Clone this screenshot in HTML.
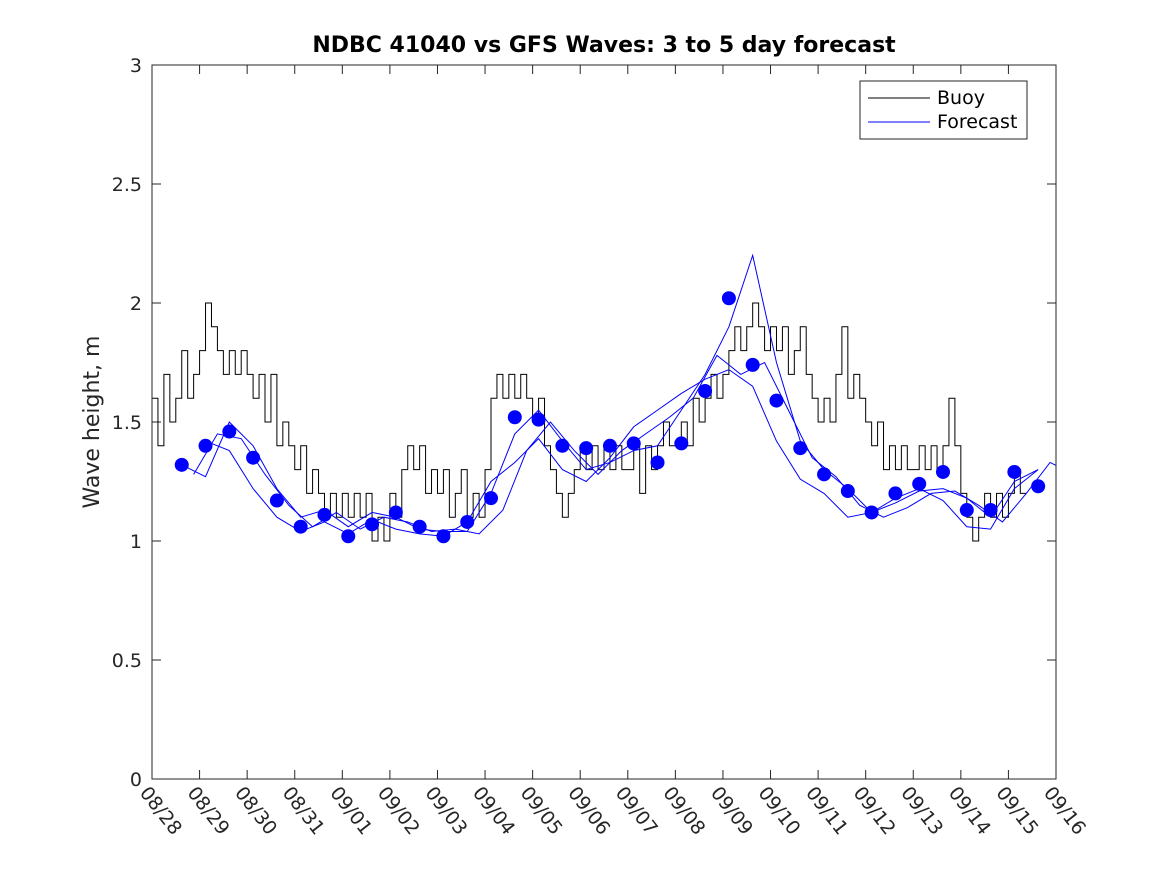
<!DOCTYPE html>
<html><head><meta charset="utf-8"><style>body{margin:0;background:#fff}svg{display:block;font-family:"DejaVu Sans","Liberation Sans",sans-serif}</style></head>
<body>
<svg id="chart" width="1167" height="875" viewBox="0 0 1167 875">
<rect width="1167" height="875" fill="#fff"/>
<text x="604" y="52" text-anchor="middle" font-size="22" font-weight="bold" fill="#000">NDBC 41040 vs GFS Waves: 3 to 5 day forecast</text>
<text transform="translate(99,422) rotate(-90)" text-anchor="middle" font-size="22" fill="#262626">Wave height, m</text>
<g id="plot"></g>
<rect x="152" y="65" width="904" height="714" fill="none" stroke="#262626" stroke-width="1"/>
<g>
<rect x="860" y="81" width="167" height="58" fill="#fff" stroke="#262626"/>
<line x1="868" y1="98" x2="930" y2="98" stroke="#000"/>
<text x="937" y="104" font-size="19" fill="#000">Buoy</text>
<line x1="868" y1="122" x2="930" y2="122" stroke="#0000ff"/>
<text x="937" y="128" font-size="19" fill="#000">Forecast</text>
</g>
</svg>
<script>
const xTickLabels=["08/28","08/29","08/30","08/31","09/01","09/02","09/03","09/04","09/05","09/06","09/07","09/08","09/09","09/10","09/11","09/12","09/13","09/14","09/15","09/16"];
const yTicks=[0,0.5,1,1.5,2,2.5,3];
const yTickLabels=["0","0.5","1","1.5","2","2.5","3"];
const buoy=[1.6,1.4,1.7,1.5,1.6,1.8,1.6,1.7,
1.8,2.0,1.9,1.8,1.7,1.8,1.7,1.8,
1.7,1.6,1.7,1.5,1.7,1.4,1.5,1.4,
1.3,1.4,1.2,1.3,1.2,1.1,1.2,1.1,
1.2,1.1,1.2,1.1,1.2,1.0,1.1,1.0,
1.2,1.1,1.3,1.4,1.3,1.4,1.2,1.3,
1.2,1.3,1.1,1.2,1.3,1.1,1.2,1.1,
1.3,1.6,1.7,1.6,1.7,1.6,1.7,1.6,
1.5,1.6,1.4,1.3,1.2,1.1,1.2,1.3,
1.4,1.3,1.4,1.3,1.4,1.3,1.4,1.3,
1.3,1.4,1.2,1.4,1.3,1.4,1.5,1.4,
1.4,1.5,1.4,1.6,1.5,1.6,1.7,1.6,
1.7,1.8,1.9,1.8,1.9,2.0,1.9,1.8,
1.9,1.8,1.9,1.7,1.8,1.9,1.7,1.6,
1.5,1.6,1.5,1.7,1.9,1.6,1.7,1.6,
1.5,1.4,1.5,1.3,1.4,1.3,1.4,1.3,
1.3,1.4,1.3,1.4,1.3,1.4,1.6,1.4,
1.2,1.1,1.0,1.1,1.2,1.1,1.2,1.1,
1.2,1.3,1.2];
const buoyStart=0, buoyStep=0.125;
const dots=[1.32,1.40,1.46,1.35,1.17,1.06,1.11,1.02,1.07,1.12,1.06,1.02,1.08,1.18,1.52,1.51,1.40,1.39,1.40,1.41,1.33,1.41,1.63,2.02,1.74,1.59,1.39,1.28,1.21,1.12,1.20,1.24,1.29,1.13,1.13,1.29,1.23];
const dotsStart=0.625;
const fcA=[1.32,1.27,1.50,1.40,1.22,1.10,1.13,1.06,1.12,1.10,1.05,1.04,1.04,1.20,1.45,1.55,1.42,1.30,1.33,1.38,1.40,1.55,1.70,1.90,2.20,1.75,1.42,1.30,1.22,1.12,1.16,1.21,1.22,1.18,1.10,1.25,1.30];
const fcAStart=0.625;
const fcB=[1.28,1.45,1.43,1.28,1.15,1.06,1.12,1.05,1.10,1.08,1.04,1.05,1.03,1.13,1.38,1.50,1.38,1.28,1.38,1.45,1.52,1.60,1.78,1.70,1.75,1.55,1.35,1.27,1.15,1.10,1.14,1.20,1.21,1.15,1.08,1.20,1.33,1.28];
const fcBStart=0.875;
const fcC=[1.42,1.38,1.22,1.10,1.04,1.08,1.03,1.09,1.05,1.03,1.02,1.08,1.25,1.33,1.43,1.30,1.25,1.35,1.48,1.55,1.62,1.68,1.72,1.65,1.42,1.26,1.20,1.10,1.12,1.18,1.22,1.17,1.06,1.05,1.22,1.30];
const fcCStart=1.125;
const fcStep=0.5;

const X0=152,X1=1056,Y0=779,Y1=65,DAYS=19,YMAX=3;
const xs=d=>X0+(X1-X0)*d/DAYS;
const ys=v=>Y0-(Y0-Y1)*v/YMAX;
const NS="http://www.w3.org/2000/svg";
const plot=document.getElementById('plot');
function mk(t,a){const e=document.createElementNS(NS,t);for(const k in a)e.setAttribute(k,a[k]);return e;}
const clip=mk('clipPath',{id:'pc'});clip.appendChild(mk('rect',{x:X0,y:Y1,width:X1-X0,height:Y0-Y1}));plot.appendChild(clip);
yTicks.forEach((v,i)=>{
  const y=ys(v);
  const t1=mk('line',{x1:X0,y1:y,x2:X0+9,y2:y,stroke:'#262626'});
  
  
  plot.appendChild(t1);
  const t2=mk('line',{x1:X1-9,y1:y,x2:X1,y2:y,stroke:'#262626'});
  
  
  plot.appendChild(t2);
  const lb=mk('text',{x:X0-10,y:y+7,'text-anchor':'end','font-size':19,fill:'#262626'});
  lb.textContent=yTickLabels[i];
  
  
  plot.appendChild(lb);
});
xTickLabels.forEach((s,i)=>{
  const x=xs(i);
  const t1=mk('line',{x1:x,y1:Y0,x2:x,y2:Y0-9,stroke:'#262626'});
  
  
  plot.appendChild(t1);
  const t2=mk('line',{x1:x,y1:Y1,x2:x,y2:Y1+9,stroke:'#262626'});
  
  
  plot.appendChild(t2);
  const lb=mk('text',{transform:`translate(${x-13},${Y0+14}) rotate(52)`,'font-size':19,fill:'#262626'});
  lb.textContent=s;
  
  
  plot.appendChild(lb);
});
const g=mk('g',{'clip-path':'url(#pc)'});plot.appendChild(g);
let d='';
buoy.forEach((v,i)=>{const x=xs(buoyStart+i*buoyStep),y=ys(v);
  if(i===0)d+=`M${x},${y}`;else d+=`V${y}`;
  d+=`H${xs(buoyStart+(i+1)*buoyStep)}`;});
const bp=mk('path',{d:d,fill:'none',stroke:'#000','stroke-width':1});


g.appendChild(bp);
function fline(arr,start,name){
  const p=mk('polyline',{points:arr.map((v,i)=>xs(start+i*fcStep)+','+ys(v)).join(' '),fill:'none',stroke:'#0000ff','stroke-width':1});
  
  
  g.appendChild(p);
}
fline(fcA,fcAStart,'forecast-line-a');
fline(fcB,fcBStart,'forecast-line-b');
fline(fcC,fcCStart,'forecast-line-c');
dots.forEach((v,i)=>{
  const c=mk('circle',{cx:xs(dotsStart+i*fcStep),cy:ys(v),r:7,fill:'#0000ff'});
  
  
  g.appendChild(c);
});
</script>
</body></html>
